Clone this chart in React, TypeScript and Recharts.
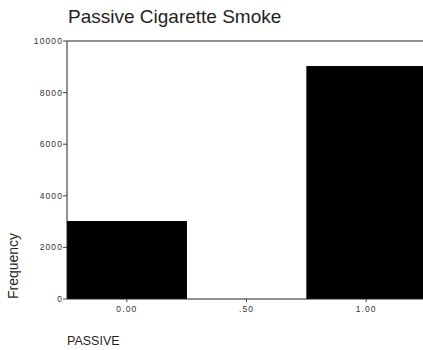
import React from 'react'
import { BarChart, Bar, XAxis, YAxis, ReferenceLine } from 'recharts'

// PASSIVE frequency histogram
const categories = ['0.00', '.50', '1.00']
const frequencies = [3020, 0, 9030]
const yTicks = [0, 2000, 4000, 6000, 8000, 10000]

const data = categories.map((c, i) => ({ cat: c, freq: frequencies[i] }))

const font = '"Liberation Sans", Arial, sans-serif'
const ink = '#1f1f1f'
const tickStyle = { fontSize: 8.5, fill: '#333', fontFamily: font, letterSpacing: 1.1 }

export default function App() {
  return (
    <div
      style={{
        position: 'fixed',
        left: 0,
        top: 0,
        width: 423,
        height: 350,
        overflow: 'hidden',
        background: '#fff',
        fontFamily: font,
      }}
    >
      <div style={{ position: 'absolute', left: 68, top: 6, fontSize: 19, color: ink, whiteSpace: 'nowrap' }}>
        Passive Cigarette Smoke
      </div>
      <div
        style={{
          position: 'absolute',
          left: 13,
          top: 266,
          fontSize: 14,
          color: ink,
          transform: 'translate(-50%, -50%) rotate(-90deg)',
          whiteSpace: 'nowrap',
        }}
      >
        Frequency
      </div>
      <div style={{ position: 'absolute', left: 67, top: 334, fontSize: 12.5, color: ink }}>PASSIVE</div>
      <div style={{ position: 'absolute', left: 0, top: 0 }}>
        <BarChart
          width={426}
          height={350}
          data={data}
          margin={{ top: 41, right: 0, left: 0, bottom: 0 }}
          barCategoryGap={0}
        >
          <XAxis
            dataKey="cat"
            height={51}
            interval={0}
            tickSize={3}
            tickMargin={4}
            axisLine={{ stroke: '#222', strokeWidth: 1 }}
            tickLine={{ stroke: '#444' }}
            tick={tickStyle}
          />
          <YAxis
            width={67}
            domain={[0, 10000]}
            ticks={yTicks}
            interval={0}
            tickSize={4}
            tickMargin={0}
            axisLine={{ stroke: '#222', strokeWidth: 1 }}
            tickLine={{ stroke: '#444' }}
            tick={tickStyle}
          />
          <ReferenceLine y={10000} stroke="#222" strokeWidth={1} />
          <Bar dataKey="freq" fill="#000" isAnimationActive={false} />
        </BarChart>
      </div>
    </div>
  )
}
